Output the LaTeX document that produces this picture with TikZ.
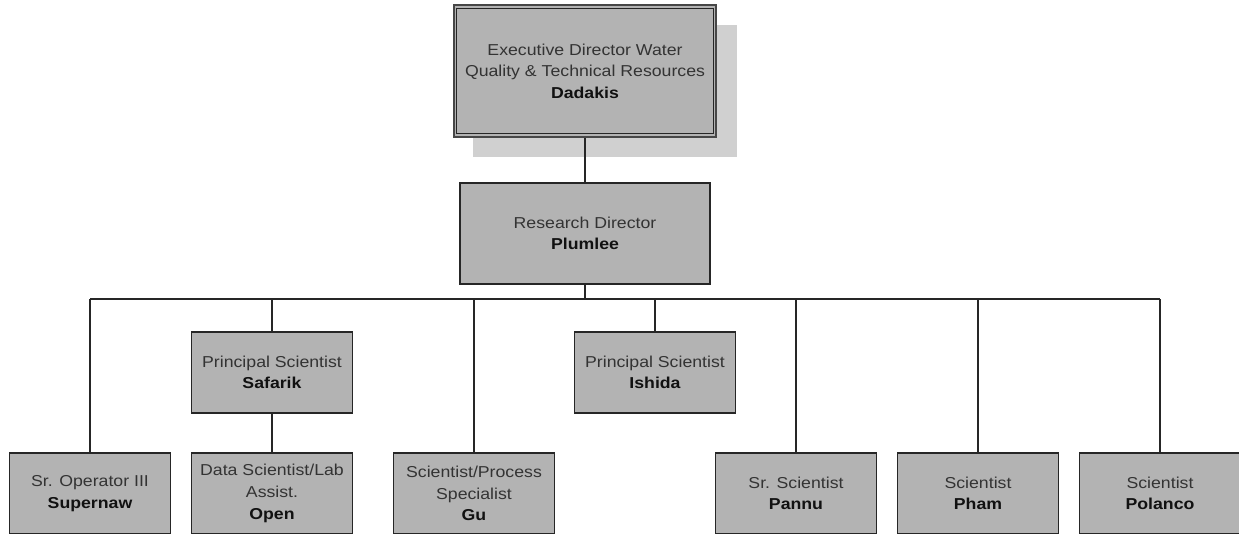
\documentclass[tikz,border=0pt]{standalone}
\usepackage{fontspec}
\setmainfont{Liberation Sans}[FakeStretch=1.12]
\definecolor{boxfill}{HTML}{B3B3B3}
\definecolor{shadowfill}{HTML}{D0D0D0}
\definecolor{edge}{HTML}{262626}
\definecolor{txt}{HTML}{333333}
\definecolor{txtb}{HTML}{111111}
\newcommand{\who}[1]{{\bfseries\color{txtb}#1}}
\tikzset{
  posbox/.style={draw=edge, fill=boxfill, line width=1.2pt, inner sep=0pt,
    minimum width=161pt, minimum height=81pt, align=center, text=txt,
    font=\fontsize{15.8}{21.6}\selectfont},
  link/.style={draw=edge, line width=1.3pt}
}
\begin{document}
\begin{tikzpicture}[x=1pt, y=-1pt]
\useasboundingbox (0,0) rectangle (1239,533);
\clip (0,0) rectangle (1239,533);

% executive box with drop shadow and double border
\fill[shadowfill] (473,25) rectangle (737,157);
\node[posbox, line width=2.6pt, draw=edge!85!white, minimum width=262pt, minimum height=132pt]
  (exec) at (585,71) {Executive Director Water\\Quality \& Technical Resources\\\who{Dadakis}};
\draw[edge, line width=1.1pt] ([shift={(3.6pt,-4.5pt)}]exec.north west) rectangle ([shift={(-3.6pt,4.5pt)}]exec.south east);

% research director
\node[posbox, minimum width=250pt, minimum height=101pt] (rd) at (585,233.5)
  {Research Director\\\who{Plumlee}};

% principal scientists
\node[posbox] (safarik) at (272,372.5) {Principal Scientist\\\who{Safarik}};
\node[posbox] (ishida) at (655,372.5) {Principal Scientist\\\who{Ishida}};

% bottom row
\node[posbox] (supernaw) at (90,493.5) {Sr. Operator III\\\who{Supernaw}};
\node[posbox] (open) at (272,493.5) {Data Scientist/Lab\\Assist.\\\who{Open}};
\node[posbox] (gu) at (474,493.5) {Scientist/Process\\Specialist\\\who{Gu}};
\node[posbox] (pannu) at (796,493.5) {Sr. Scientist\\\who{Pannu}};
\node[posbox] (pham) at (978,493.5) {Scientist\\\who{Pham}};
\node[posbox] (polanco) at (1160,493.5) {Scientist\\\who{Polanco}};

% connectors
\coordinate (busL) at (90,299);
\coordinate (busR) at (1160,299);
\draw[link] (exec.south) -- (rd.north);
\draw[link] (rd.south) -- (rd.south |- busL);
\draw[link] (busL) -- (busR);
\draw[link] (supernaw.north |- busL) -- (supernaw.north);
\draw[link] (safarik.north |- busL) -- (safarik.north);
\draw[link] (gu.north |- busL) -- (gu.north);
\draw[link] (ishida.north |- busL) -- (ishida.north);
\draw[link] (pannu.north |- busL) -- (pannu.north);
\draw[link] (pham.north |- busL) -- (pham.north);
\draw[link] (polanco.north |- busL) -- (polanco.north);
\draw[link] (safarik.south) -- (open.north);
\end{tikzpicture}
\end{document}
